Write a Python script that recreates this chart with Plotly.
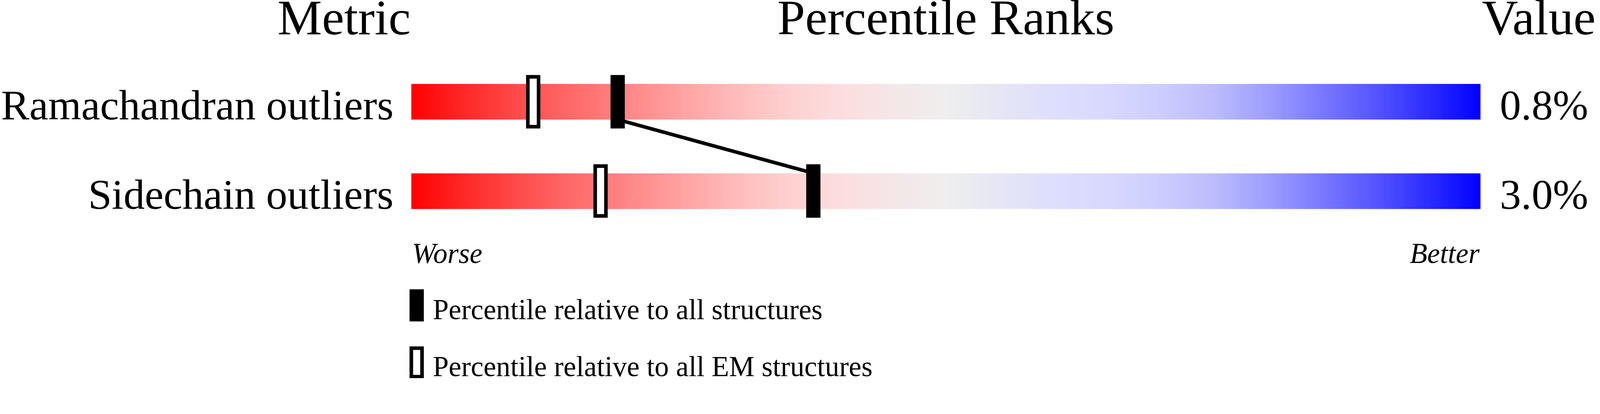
import numpy as np
import plotly.graph_objects as go

# Data
metrics = ["Ramachandran outliers", "Sidechain outliers"]
values = ["0.8%", "3.0%"]
pct_all = [19.3, 37.6]   # percentile relative to all structures
pct_em = [11.4, 17.7]    # percentile relative to all EM structures
legend_labels = ["Percentile relative to all structures",
                 "Percentile relative to all EM structures"]

# Page geometry (pixels)
W, H = 4485, 1061
BAR_X0, BAR_X1 = 1153, 4150
ROW0_PX, ROW_PX = 285.5, 250.5
PPU = (BAR_X1 - BAR_X0) / 100.0
FONT = "Liberation Serif, Times New Roman, serif"


def ux(px):
    # pixel column -> percentile axis units
    return (px - BAR_X0) / PPU


def uy(px):
    # pixel row -> row axis units
    return (px - ROW0_PX) / ROW_PX


# red -> grey -> blue gradient of the slider
grad = [
    [0.00, "rgb(255,0,0)"], [0.05, "rgb(255,40,40)"], [0.10, "rgb(255,75,75)"],
    [0.15, "rgb(255,105,105)"], [0.20, "rgb(255,133,133)"], [0.25, "rgb(255,160,160)"],
    [0.30, "rgb(255,185,185)"], [0.35, "rgb(254,207,207)"], [0.40, "rgb(252,221,222)"],
    [0.45, "rgb(245,230,231)"], [0.50, "rgb(238,238,238)"], [0.55, "rgb(230,230,245)"],
    [0.60, "rgb(222,222,253)"], [0.65, "rgb(216,216,255)"], [0.70, "rgb(205,205,255)"],
    [0.75, "rgb(188,188,253)"], [0.80, "rgb(158,158,255)"], [0.85, "rgb(122,122,255)"],
    [0.90, "rgb(86,86,255)"], [0.95, "rgb(45,45,255)"], [1.00, "rgb(0,0,255)"],
]

bar_half = 50 / ROW_PX
xedges = np.linspace(0, 100, 301)
xcent = (xedges[:-1] + xedges[1:]) / 2
yedges = []
zrows = []
for i in range(len(metrics)):
    yedges += [i - bar_half, i + bar_half]
    zrows.append(list(xcent))
    if i < len(metrics) - 1:
        zrows.append([None] * len(xcent))

fig = go.Figure()

fig.add_trace(go.Heatmap(
    x=xedges, y=yedges, z=zrows, zmin=0, zmax=100,
    colorscale=grad, showscale=False, hoverinfo="skip",
))

# line joining the "all structures" markers
fig.add_trace(go.Scatter(
    x=pct_all, y=[i + bar_half * (1 if i == 0 else -1) for i in range(len(pct_all))],
    mode="lines", line=dict(color="black", width=10), hoverinfo="skip",
))

mark_h = 150 / ROW_PX
fig.add_trace(go.Bar(
    x=pct_em, y=[mark_h - 10 / ROW_PX] * len(pct_em),
    base=[i - (mark_h - 10 / ROW_PX) / 2 for i in range(len(pct_em))],
    width=30 / PPU,
    marker=dict(color="white", line=dict(color="black", width=10)),
    hoverinfo="skip",
))
fig.add_trace(go.Bar(
    x=pct_all, y=[mark_h] * len(pct_all),
    base=[i - mark_h / 2 for i in range(len(pct_all))],
    width=40 / PPU,
    marker=dict(color="black", line=dict(width=0)),
    hoverinfo="skip",
))

ann = []


def text(x, y, s, size, anchor, italic=False):
    ann.append(dict(
        x=x, y=y, xref="x", yref="y", text=s, showarrow=False,
        xanchor=anchor, yanchor="middle",
        font=dict(family=FONT, size=size, color="black",
                  style="italic" if italic else "normal"),
    ))


# headers
hy = uy(96 - 0.3375 * 140)
text(ux(BAR_X0), hy, "Metric", 140, "right")
text(50, hy, "Percentile Ranks", 140, "center")
text(ux(BAR_X1 + 2), hy, "Value", 140, "left")

for i, (m, v) in enumerate(zip(metrics, values)):
    cy = i + bar_half - 0.3375 * 119 / ROW_PX
    text(ux(1105), cy, m, 119, "right")
    text(ux(4202), cy, v, 119, "left")

wy = uy(738 - 0.3375 * 80)
text(0, wy, "Worse", 80, "left", italic=True)
text(100, wy, "Better", 80, "right", italic=True)

# legend
shapes = []
for k, lab in enumerate(legend_labels):
    top = 812 + 160 * k
    if k == 0:
        shapes.append(dict(type="rect", xref="x", yref="y",
                           x0=ux(1148), x1=ux(1188), y0=uy(top), y1=uy(top + 90),
                           fillcolor="black", line=dict(width=0)))
    else:
        shapes.append(dict(type="rect", xref="x", yref="y",
                           x0=ux(1153), x1=ux(1183), y0=uy(top + 5), y1=uy(top + 85),
                           fillcolor="white", line=dict(color="black", width=10)))
    text(ux(1211), uy(top + 84 - 0.3375 * 80), lab, 80, "left")

fig.update_layout(
    width=W, height=H, autosize=False,
    margin=dict(l=0, r=0, t=0, b=0),
    paper_bgcolor="white", plot_bgcolor="white",
    showlegend=False, barmode="overlay",
    xaxis=dict(range=[ux(0), ux(W)], visible=False, fixedrange=True),
    yaxis=dict(range=[uy(H), uy(0)], visible=False, fixedrange=True),
    annotations=ann, shapes=shapes,
)

# fit the fixed-size figure to whatever viewport the page is opened in
fit_js = ("document.body.style.margin='0';"
          "document.body.style.overflow='hidden';"
          "document.body.style.zoom=String(window.innerWidth/%d);" % W)

fig.write_html("out.html", config={"displayModeBar": False}, post_script=fit_js)
